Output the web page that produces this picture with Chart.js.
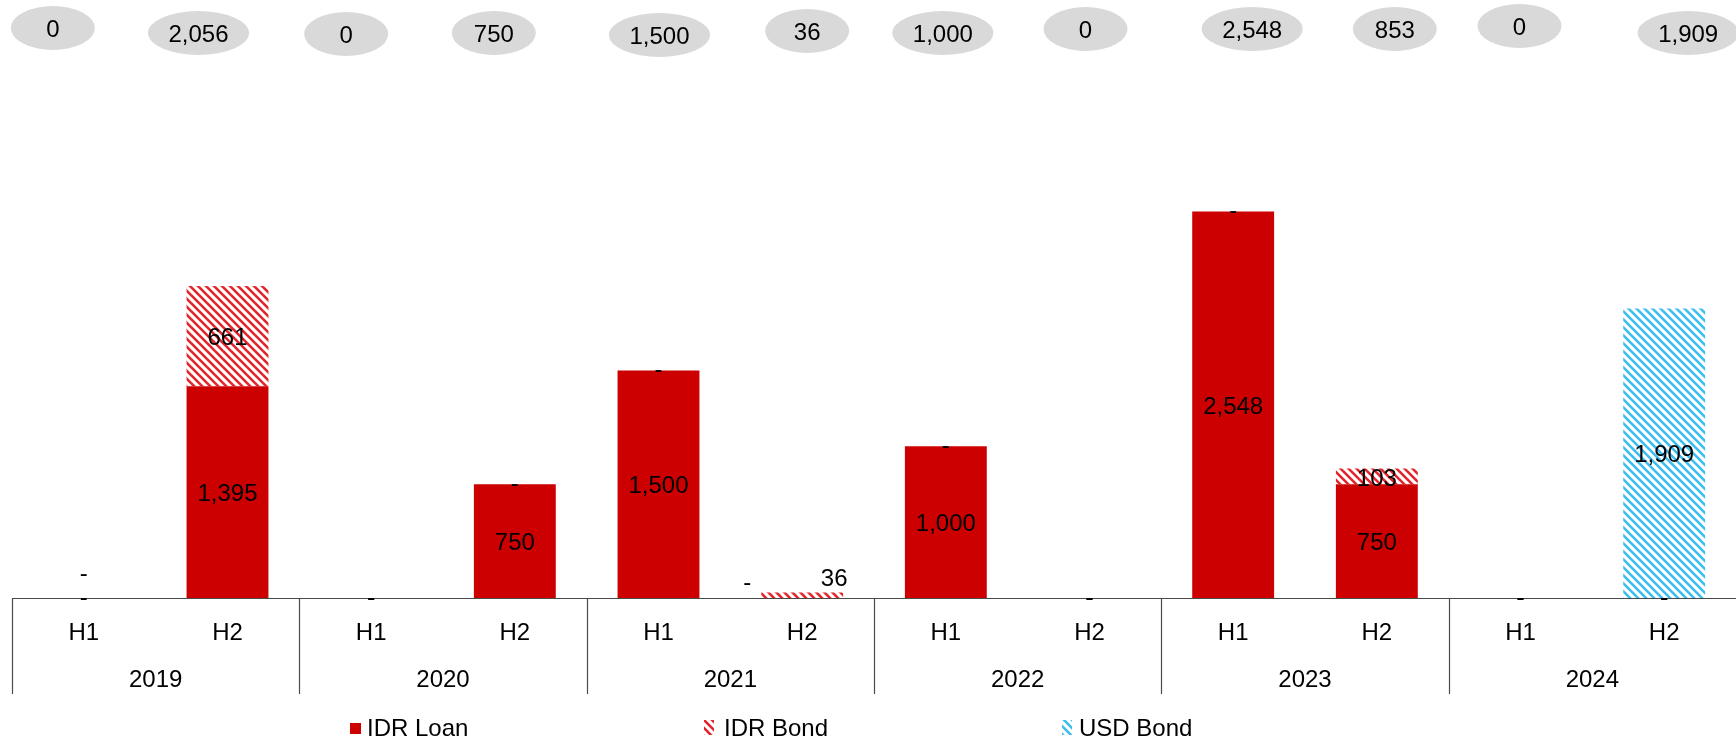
<!DOCTYPE html>
<html>
<head>
<meta charset="utf-8">
<title>Debt drawdown by half-year</title>
<script src="https://cdn.jsdelivr.net/npm/chart.js@4.4.1/dist/chart.umd.min.js"></script>
<style>
  html, body { margin: 0; padding: 0; background: #ffffff; }
  #wrap { width: 1736px; height: 739px; position: relative; }
</style>
</head>
<body>
<div id="wrap"><canvas id="chart" width="1736" height="739"></canvas></div>
<script>
// ---- data ----
const halves = ['H1', 'H2', 'H1', 'H2', 'H1', 'H2', 'H1', 'H2', 'H1', 'H2', 'H1', 'H2'];
const years = ['2019', '2020', '2021', '2022', '2023', '2024'];
const idrLoan = [0, 1395, 0, 750, 1500, 0, 1000, 0, 2548, 750, 0, 0];
const idrBond = [0, 661, 0, 0, 0, 36, 0, 0, 0, 103, 0, 0];
const usdBond = [0, 0, 0, 0, 0, 0, 0, 0, 0, 0, 0, 1909];
const seriesNames = ['IDR Loan', 'IDR Bond', 'USD Bond'];

// ---- look ----
const FONT = '24px "Liberation Sans", Arial, Helvetica, sans-serif';
const RED = '#cc0000';
const LINE = '#4a4a4a';
const TEXT_DY = 2.5;   // optical centring of Liberation Sans

// total badge placement, relative to each half-year slot
const badgeDx = [-31, -29, -25, -21, 1, 5, -3, -4, 19, 18, -1, 24];
const badgeY = [28, 33, 34, 33, 35, 31, 33, 29, 29, 29, 26, 33];

// value labels that sit off their bar: "dataset:index" -> [dx, dy]
const labelNudge = { '0:0': [0, -24], '0:5': [-55, -15], '1:5': [32, -18] };

function hatch(color) {
  const t = document.createElement('canvas');
  t.width = 8; t.height = 8;
  const g = t.getContext('2d');
  g.fillStyle = '#ffffff';
  g.fillRect(0, 0, 8, 8);
  g.strokeStyle = color;
  g.lineWidth = 2.6;
  g.lineCap = 'square';
  for (let k = -1; k <= 1; k++) {
    g.beginPath();
    g.moveTo(-2 + k * 8, -2);
    g.lineTo(10 + k * 8, 10);
    g.stroke();
  }
  return g.createPattern(t, 'repeat');
}

const ctx0 = document.getElementById('chart').getContext('2d');
const redHatch = hatch('#e3262b');
const blueHatch = hatch('#3bbdf0');
const fills = [RED, redHatch, blueHatch];

const totals = halves.map((_, i) => idrLoan[i] + idrBond[i] + usdBond[i]);
const fmt = v => v.toLocaleString('en-US');

const decor = {
  id: 'decor',
  afterDatasetsDraw(chart) {
    const { ctx, chartArea, scales } = chart;
    const xs = scales.x;
    const bottom = chartArea.bottom;
    const step = xs.getPixelForValue(1) - xs.getPixelForValue(0);

    ctx.save();
    // axis line
    ctx.strokeStyle = LINE;
    ctx.lineWidth = 1.2;
    ctx.beginPath();
    ctx.moveTo(chartArea.left, bottom + 0.5);
    ctx.lineTo(chartArea.right, bottom + 0.5);
    ctx.stroke();

    // year separators
    for (let b = 0; b < years.length; b++) {
      const x = Math.round(xs.getPixelForValue(b * 2) - step / 2) + 0.5;
      ctx.beginPath();
      ctx.moveTo(x, bottom);
      ctx.lineTo(x, bottom + 96);
      ctx.stroke();
    }

    ctx.fillStyle = '#000';
    ctx.font = FONT;
    ctx.textAlign = 'center';
    ctx.textBaseline = 'middle';

    // half-year and year labels
    halves.forEach((h, i) => ctx.fillText(h, xs.getPixelForValue(i), bottom + 33 + TEXT_DY));
    years.forEach((y, b) => {
      const x = (xs.getPixelForValue(b * 2) + xs.getPixelForValue(b * 2 + 1)) / 2;
      ctx.fillText(y, x, bottom + 80 + TEXT_DY);
    });

    // value labels on the stacked segments
    chart.data.datasets.forEach((ds, di) => {
      const meta = chart.getDatasetMeta(di);
      meta.data.forEach((el, i) => {
        const v = ds.data[i];
        if (v === 0 && di === 2) return;
        const n = labelNudge[di + ':' + i] || [0, 0];
        const cy = (el.y + el.base) / 2;
        ctx.fillText(v === 0 ? '-' : fmt(v), el.x + n[0], cy + n[1] + (v === 0 ? 0 : TEXT_DY));
      });
    });

    // total badges
    totals.forEach((t, i) => {
      const txt = fmt(t);
      const cx = xs.getPixelForValue(i) + badgeDx[i];
      const cy = badgeY[i];
      const w = txt.length > 3 ? 101 : 84;
      ctx.fillStyle = '#d9d9d9';
      ctx.beginPath();
      ctx.ellipse(cx, cy, w / 2, 22, 0, 0, Math.PI * 2);
      ctx.fill();
      ctx.fillStyle = '#000';
      ctx.fillText(txt, cx, cy + 2);
    });

    // legend
    const legend = [
      { x: 350, tx: 367 },
      { x: 704, tx: 724 },
      { x: 1062, tx: 1079 }
    ];
    ctx.textAlign = 'left';
    legend.forEach((it, k) => {
      ctx.fillStyle = fills[k];
      if (k === 0) ctx.fillRect(it.x, 723, 11, 11);
      else ctx.fillRect(it.x, 720, 10, 15);
      ctx.fillStyle = '#000';
      ctx.fillText(seriesNames[k], it.tx, 727 + TEXT_DY);
    });
    ctx.restore();
  }
};

new Chart(ctx0, {
  type: 'bar',
  data: {
    labels: halves.map((h, i) => years[Math.floor(i / 2)] + ' ' + h),
    datasets: [
      { label: seriesNames[0], data: idrLoan, backgroundColor: fills[0] },
      { label: seriesNames[1], data: idrBond, backgroundColor: fills[1] },
      { label: seriesNames[2], data: usdBond, backgroundColor: fills[2] }
    ]
  },
  options: {
    responsive: false,
    devicePixelRatio: 1,
    animation: false,
    layout: { padding: { left: 12, right: 0, top: 67, bottom: 141 } },
    datasets: { bar: { barPercentage: 0.57, categoryPercentage: 1.0, borderWidth: 0 } },
    plugins: { legend: { display: false }, tooltip: { enabled: false } },
    scales: {
      x: { stacked: true, display: false },
      y: { stacked: true, display: false, min: 0, max: 3500 }
    }
  },
  plugins: [decor]
});
</script>
</body>
</html>
